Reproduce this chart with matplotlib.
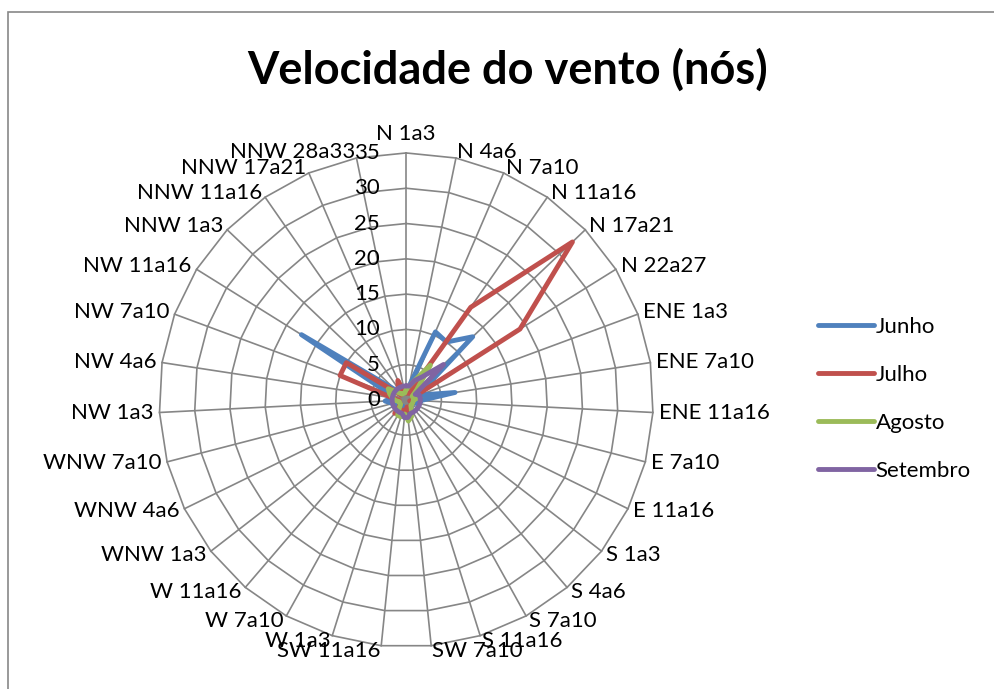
import numpy as np
import matplotlib
matplotlib.use("Agg")
from matplotlib import pyplot as plt
from matplotlib.patches import Rectangle

plt.rcParams['font.family'] = ['Lato', 'DejaVu Sans']

# wind speed classes per direction (knots)
categories = [
    'N 1a3', 'N 4a6', 'N 7a10', 'N 11a16', 'N 17a21', 'N 22a27',
    'ENE 1a3', 'ENE 7a10', 'ENE 11a16', 'E 7a10', 'E 11a16',
    'S 1a3', 'S 4a6', 'S 7a10', 'S 11a16', 'SW 7a10', 'SW 11a16',
    'W 1a3', 'W 7a10', 'W 11a16', 'WNW 1a3', 'WNW 4a6', 'WNW 7a10',
    'NW 1a3', 'NW 4a6', 'NW 7a10', 'NW 11a16',
    'NNW 1a3', 'NNW 11a16', 'NNW 17a21', 'NNW 28a33',
]
junho = [1, 2, 10.5, 10, 13, 3, 2, 7, 2, 2, 1, 1, 1, 1.5, 2, 2,
         2.5, 1.5, 1, 1.5, 1, 2, 2, 3, 2, 2.5, 17.5, 2, 1, 1.5, 1]
julho = [1, 1, 1, 16, 32.5, 19, 1, 1, 1, 0.5, 1, 1, 1, 1, 1.5, 1,
         2, 1.5, 2, 2.5, 1, 1, 1, 1, 2, 10, 10, 1, 2, 3, 1]
agosto = [1.5, 2, 3, 6, 2, 1, 1, 1.5, 1, 1, 1, 1, 1, 1.5, 2.5, 3,
          2, 2.5, 2.5, 1.5, 1, 1, 1, 1.5, 2, 2.5, 3, 1.5, 1, 1, 1]
setembro = [2, 2, 3, 4, 7.3, 1.5, 2, 2, 2, 2, 2, 2, 2, 2, 2, 2.5,
            2.5, 2, 2, 2, 2, 2, 2, 2, 2, 2, 2, 2, 2, 2, 2]
series = [('Junho', junho, '#4F81BD'), ('Julho', julho, '#C0504D'),
          ('Agosto', agosto, '#9BBB59'), ('Setembro', setembro, '#8064A2')]
rings = [0, 5, 10, 15, 20, 25, 30, 35]

n = len(categories)
theta = 2 * np.pi * np.arange(n) / n
theta_c = np.append(theta, theta[0])

fig = plt.figure(figsize=(9.95, 6.89), dpi=100)
fig.add_artist(Rectangle((0.008, -0.1), 1.2, 1.0826, transform=fig.transFigure,
                         fill=False, ec='#888888', lw=1.2))

ax = fig.add_axes([0.160, 0.061, 0.4965, 0.717], projection='polar')
ax.set_theta_zero_location('N')
ax.set_theta_direction(-1)
ax.set_ylim(0, 35)
ax.grid(False)
ax.set_xticks([])
ax.set_yticks([])
ax.spines['polar'].set_visible(False)
ax.patch.set_visible(False)

grid_col = '#868686'
for r in rings[1:]:
    ax.plot(theta_c, [r] * (n + 1), color=grid_col, lw=1.2, clip_on=False, zorder=1)
for th in theta:
    ax.plot([th, th], [0, 35], color=grid_col, lw=1.2, clip_on=False, zorder=1)

for name, vals, col in series:
    ax.plot(theta_c, vals + vals[:1], color=col, lw=3.5, label=name,
            solid_joinstyle='round', solid_capstyle='round', clip_on=False, zorder=3)

# category labels around the outer ring
for th, lab in zip(theta, categories):
    s = np.sin(th)
    if abs(s) < 0.05:
        ax.text(th, 36.2, lab, ha='center', va='bottom', fontsize=16)
    else:
        ax.text(th, 35.8, lab, ha='left' if s > 0 else 'right', va='center', fontsize=16)

# radial axis values
for r in rings:
    ax.annotate(str(r), xy=(0, r), xytext=(-19, 0), textcoords='offset points',
                ha='right', va='center', fontsize=16)

fig.text(0.51, 0.898, 'Velocidade do vento (nós)', ha='center', va='center',
         fontsize=32.5, fontweight='bold')

fig.legend(loc='center left', bbox_to_anchor=(0.802, 0.421), frameon=False,
           fontsize=16, handlelength=2.5, handletextpad=0.1, labelspacing=1.25)

fig.savefig('out.png', dpi=100)
